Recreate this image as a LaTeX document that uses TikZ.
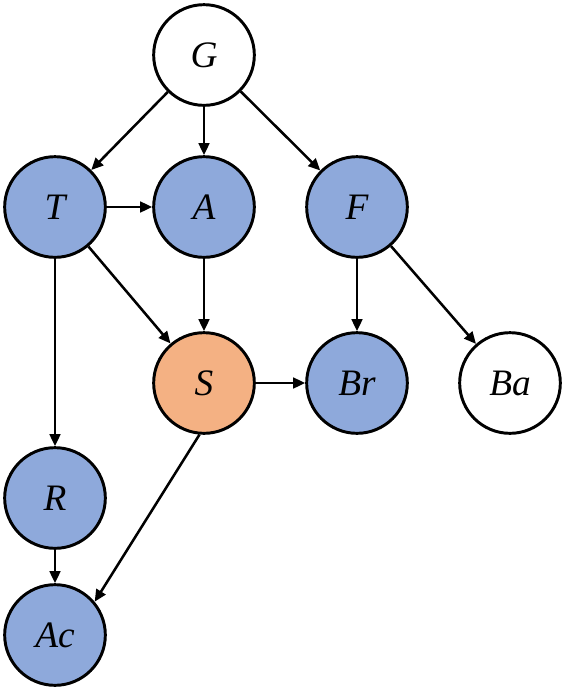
\documentclass[tikz,border=0pt]{standalone}
\usepackage{fontspec}
\setmainfont{Liberation Serif}
\usetikzlibrary{arrows.meta}

\definecolor{nodeblue}{HTML}{8EA9DB}
\definecolor{nodeorange}{HTML}{F4B183}

\tikzset{
  var/.style={draw, line width=2.2pt, circle, minimum size=75.5pt, inner sep=0pt, font=\fontsize{28}{30}\selectfont\itshape},
  obs/.style={var, fill=nodeblue},
  hid/.style={var, fill=white},
  query/.style={var, fill=nodeorange},
  link/.style={line width=1.9pt, -{Triangle[length=9pt, width=8pt]}}
}

\begin{document}
\begin{tikzpicture}[x=0.75pt, y=-0.75pt]
  \useasboundingbox (0,0) rectangle (565,690);
  % top row
  \node[hid] (g) at (204,55) {G};
  % second row
  \node[obs] (t) at (55,207) {T};
  \node[obs] (a) at (204,207) {A};
  \node[obs] (f) at (357,207) {F};
  % third row
  \node[query] (s) at (204,383) {S};
  \node[obs] (br) at (357,383) {Br};
  \node[hid] (ba) at (510,383) {Ba};
  % left column
  \node[obs] (r) at (55,498) {R};
  \node[obs] (ac) at (55,635) {Ac};
  % edges
  \draw[link] (g) -- (t);
  \draw[link] (g) -- (a);
  \draw[link] (g) -- (f);
  \draw[link] (t) -- (a);
  \draw[link] (t) -- (s);
  \draw[link] (a) -- (s);
  \draw[link] (t) -- (r);
  \draw[link] (f) -- (br);
  \draw[link] (f) -- (ba);
  \draw[link] (s) -- (br);
  \draw[link] (s.265) -- (ac.40);
  \draw[link] (r) -- (ac);
\end{tikzpicture}
\end{document}
